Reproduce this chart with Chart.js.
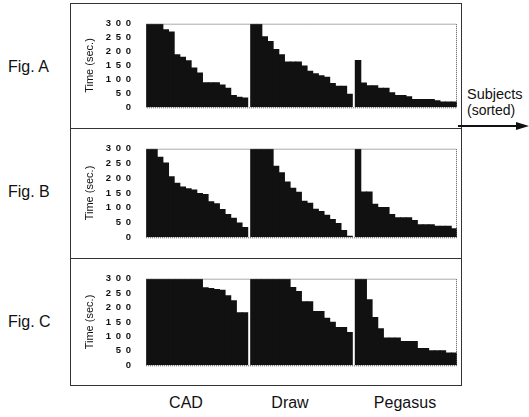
<!DOCTYPE html>
<html>
<head>
<meta charset="utf-8">
<script src="https://cdn.jsdelivr.net/npm/chart.js@4/dist/chart.umd.min.js"></script>
<style>
  body { margin: 0; background: #fff; font-family: "Liberation Sans", Arial, sans-serif; color: #111; }
  #page { position: relative; width: 529px; height: 417px; overflow: hidden; }
  .box { position: absolute; left: 70px; width: 392px; border: 1px solid #333; box-sizing: border-box; }
  canvas { position: absolute; left: 70px; }
  .lbl { position: absolute; font-size: 16px; white-space: nowrap; }
  .grp { position: absolute; top: 394px; font-size: 16px; transform: translateX(-50%); }
</style>
</head>
<body>
<div id="page">
  <div class="box" style="top:3px;height:126px"></div>
  <div class="box" style="top:128px;height:131px"></div>
  <div class="box" style="top:258px;height:128px"></div>

  <canvas id="figA" width="393" height="125" style="top:3px"></canvas>
  <canvas id="figB" width="393" height="130" style="top:128px"></canvas>
  <canvas id="figC" width="393" height="128" style="top:258px"></canvas>

  <div class="lbl" style="left:8px;top:58px">Fig. A</div>
  <div class="lbl" style="left:8px;top:183px">Fig. B</div>
  <div class="lbl" style="left:8px;top:313px">Fig. C</div>

  <div class="grp" style="left:186px">CAD</div>
  <div class="grp" style="left:290px">Draw</div>
  <div class="grp" style="left:405px">Pegasus</div>

  <div class="lbl" style="left:467px;top:86px;font-size:14.5px">Subjects</div>
  <div class="lbl" style="left:467px;top:102px;font-size:14px">(sorted)</div>
  <svg style="position:absolute;left:440px;top:118px" width="89" height="16">
    <line x1="18" y1="8" x2="78" y2="8" stroke="#111" stroke-width="2"/>
    <polygon points="76,4 89,8 76,12" fill="#111"/>
  </svg>
</div>

<script>
// groups and y ticks
const groups = ['CAD', 'Draw', 'Pegasus'];
const yTicks = [0, 50, 100, 150, 200, 250, 300];

// time (sec.) per subject, sorted, 18 subjects per group
const cadA  = [300, 300, 300, 280, 272, 190, 181, 169, 143, 125, 90, 90, 90, 82, 70, 44, 38, 35];
const drawA = [300, 300, 255, 238, 209, 190, 164, 164, 164, 150, 131, 122, 115, 110, 87, 77, 77, 49];
const pegA  = [170, 89, 79, 79, 70, 70, 54, 44, 44, 40, 30, 30, 30, 30, 25, 21, 21, 21];

const cadB  = [300, 300, 273, 253, 207, 185, 172, 166, 162, 150, 147, 122, 115, 96, 79, 66, 50, 35];
const drawB = [300, 300, 300, 300, 242, 220, 189, 168, 154, 124, 117, 97, 89, 76, 62, 48, 25, 5];
const pegB  = [300, 155, 155, 114, 103, 103, 79, 68, 68, 68, 59, 44, 44, 44, 39, 39, 39, 31];

const cadC  = [300, 300, 300, 300, 300, 300, 300, 300, 300, 300, 270, 268, 264, 262, 243, 225, 184, 184];
const drawC = [300, 300, 300, 300, 300, 300, 300, 271, 257, 222, 222, 188, 188, 165, 151, 133, 133, 115];
const pegC  = [300, 300, 229, 167, 128, 96, 96, 96, 84, 84, 84, 60, 60, 52, 52, 52, 44, 44];

// where each group begins on the subject axis (small gap between groups)
const groupStart = [0, 18.5, 37];

function toPoints(sets) {
  return sets.flatMap((vals, g) => vals.map((v, i) => ({x: groupStart[g] + i, y: v})));
}

// dotted frame round the plot area
const frame = {
  id: 'frame',
  afterDatasetsDraw(chart) {
    const {ctx, chartArea: a} = chart;
    ctx.save();
    ctx.strokeStyle = '#555';
    ctx.lineWidth = 1;
    ctx.setLineDash([1, 1]);
    ctx.strokeRect(a.left + 0.5, a.top + 0.5, a.right - a.left - 1, a.bottom - a.top);
    ctx.restore();
  }
};

function makeChart(id, sets, pad) {
  new Chart(document.getElementById(id), {
    type: 'bar',
    data: {
      datasets: [{
        data: toPoints(sets),
        backgroundColor: '#111',
        borderWidth: 0,
        barPercentage: 1.15,
        categoryPercentage: 1
      }]
    },
    options: {
      responsive: false,
      animation: false,
      layout: {padding: {left: 13, right: 6, top: pad.top, bottom: pad.bottom}},
      plugins: {legend: {display: false}, tooltip: {enabled: false}},
      scales: {
        x: {
          type: 'linear',
          offset: false,
          min: -0.5,
          max: 54.5,
          display: false
        },
        y: {
          min: 0,
          max: 300,
          afterBuildTicks(scale) { scale.ticks = yTicks.map(v => ({value: v})); },
          afterFit(scale) { scale.width = 63; },
          grid: {display: false, drawTicks: false},
          border: {display: false},
          ticks: {
            padding: 15,
            color: '#111',
            font: {family: 'Liberation Sans, Arial', size: 9.5, weight: 'bold'},
            callback: v => String(v).split('').join('\u2002')
          },
          title: {
            display: true,
            text: 'Time (sec.)',
            color: '#111',
            padding: 0,
            font: {family: 'Liberation Sans, Arial', size: 11}
          }
        }
      }
    },
    plugins: [frame]
  });
}

makeChart('figA', [cadA, drawA, pegA], {top: 9, bottom: 9});
makeChart('figB', [cadB, drawB, pegB], {top: 8, bottom: 8});
makeChart('figC', [cadC, drawC, pegC], {top: 8, bottom: 11});
</script>
</body>
</html>
